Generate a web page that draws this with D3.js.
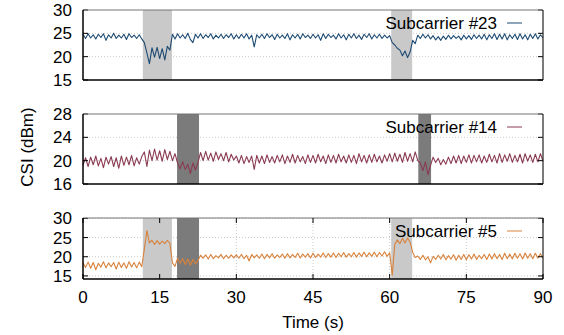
<!DOCTYPE html>
<html>
<head>
<meta charset="utf-8">
<script src="https://cdn.jsdelivr.net/npm/d3@7"></script>
<style>
  body { margin: 0; background: #fff; }
  svg { font-family: "Liberation Sans", Arial, sans-serif; }
</style>
</head>
<body>
<div id="chart"></div>
<script>
// time axis: one sample every half second, 0..90 s
const step = 0.5;
const xTicks = [0, 15, 30, 45, 60, 75, 90];

// Subcarrier #23 (dBm)
const sc23 = [
  24.8, 23.9, 24.9, 24.0, 24.7, 23.8, 24.8, 24.1, 24.9, 23.5, 24.7, 24.0, 25.0, 23.9, 24.6, 24.0, 24.8, 23.7, 24.9, 24.1, 24.6, 23.9, 24.7, 23.8,
  23.0, 20.8, 18.5, 21.9, 19.9, 22.0, 19.6, 21.7, 19.3, 22.2, 21.4,
  24.8, 23.8, 24.9, 24.0, 24.7, 23.9, 25.0, 23.7, 23.0, 24.8, 24.0, 24.9, 23.9, 24.7, 24.1, 24.9, 23.8, 24.6, 24.0, 24.8, 23.9, 24.7, 24.1, 24.9, 23.8,
  24.7, 23.9, 24.8, 24.0, 24.9, 23.8, 24.6, 22.1, 24.7, 24.0, 24.8, 23.9, 24.9, 24.1, 24.7, 23.7, 24.8, 24.0, 24.6, 23.9,
  24.9, 23.6, 24.7, 24.0, 24.8, 23.8, 24.9, 24.1, 24.6, 23.9, 24.8, 24.0, 24.7, 23.5, 24.9, 23.9, 24.8, 24.1, 24.6, 23.8,
  24.9, 24.0, 24.7, 23.6, 24.8, 24.0, 24.9, 23.9, 24.6, 23.7, 24.8, 24.1, 24.9, 23.8, 24.7, 24.0, 24.8, 23.9, 24.6, 24.0,
  24.5, 23.0, 22.5, 21.8, 21.4, 20.2, 21.2, 19.8, 21.0, 23.5, 22.8,
  24.6, 23.9, 24.8, 24.0, 24.7, 23.8, 24.5, 23.6, 24.3, 23.5, 24.4, 23.7, 24.6, 23.8, 24.5, 23.9, 24.4, 23.6, 24.6, 23.8,
  24.5, 23.7, 24.7, 23.9, 24.6, 23.8, 24.8, 23.6, 24.7, 23.9, 24.9, 23.7, 24.8, 23.8, 24.9, 23.6, 24.7, 23.9, 24.8, 23.7,
  24.9, 23.8, 24.7, 23.6, 24.8, 23.9, 24.9, 23.8, 24.7, 24.0
];

// Subcarrier #14 (dBm)
const sc14 = [
  19.2, 20.5, 19.0, 20.6, 19.3, 20.8, 19.1, 20.4, 18.8, 20.6, 19.4, 20.7, 19.0, 20.5, 18.7, 20.8, 19.2, 20.6, 19.3, 20.9, 19.1, 20.5, 19.4, 20.7,
  21.5, 19.0, 21.8, 20.0, 22.0, 20.1, 21.7, 19.9, 21.9, 20.2, 21.6, 20.0, 21.2,
  19.6, 18.6, 19.8, 18.5, 19.4, 17.8, 19.6, 18.4, 19.7,
  21.4, 20.0, 21.6, 20.1, 21.3, 19.9, 21.5, 20.2, 21.2, 20.0, 21.4, 19.8, 21.1, 20.1,
  20.8, 19.6, 20.9, 19.5, 20.7, 19.7, 20.8, 18.5, 20.9, 19.6, 20.8, 19.5, 21.0, 19.7, 20.7, 19.6, 20.9, 19.8, 21.0, 19.5,
  20.8, 19.7, 21.1, 19.6, 20.9, 19.8, 20.7, 19.5, 21.0, 19.7, 20.9, 19.6, 21.1, 19.8, 20.8, 19.5, 21.0, 19.7, 20.9, 19.6,
  21.1, 19.8, 20.8, 19.6, 21.0, 19.7, 20.9, 19.5, 21.2, 19.8, 20.9, 19.6, 21.0, 19.7, 21.1, 19.8, 20.8, 19.6, 21.0, 19.9,
  21.2, 19.8, 21.3, 19.9, 21.1, 19.7, 21.4, 19.9, 21.2, 19.8, 21.5, 20.0,
  19.6, 18.3, 19.8, 17.6, 19.2,
  20.6, 19.7, 20.4, 19.3, 20.2, 19.4, 20.6, 19.5, 20.8, 19.6, 20.9, 19.5, 20.8, 19.7, 21.0, 19.6, 20.9, 19.8, 21.0, 19.6,
  20.8, 19.7, 21.1, 19.8, 20.9, 19.6, 21.2, 19.7, 21.0, 19.9, 21.2, 19.7, 20.9, 19.8, 21.1, 19.6, 21.2, 19.9, 21.0, 19.7,
  21.1, 19.8, 21.2, 19.9
];

// Subcarrier #5 (dBm)
const sc5 = [
  18.4, 17.2, 18.6, 17.0, 18.5, 16.6, 18.3, 17.3, 18.7, 17.1, 18.4, 17.4, 18.5, 16.8, 18.6, 17.2, 18.4, 17.0, 18.7, 17.3, 18.5, 17.1, 18.6, 17.4,
  22.0, 26.8, 23.6, 24.3, 23.2, 24.2, 23.3, 24.1, 23.4, 24.3, 23.5,
  18.4, 17.5,
  19.6, 18.3, 19.5, 18.0, 19.4, 17.8, 19.3, 18.1, 19.0,
  20.4, 19.6, 20.5, 19.4, 20.6, 19.5, 20.3, 19.7, 20.6, 19.5, 20.4, 19.6, 20.5, 19.7,
  20.5, 19.6, 20.6, 19.5, 20.4, 18.9, 20.6, 19.7, 20.5, 19.6, 20.7, 19.5, 20.6, 19.7, 20.8, 19.6, 20.5, 19.8, 20.7, 19.6,
  20.8, 19.7, 20.6, 19.8, 20.9, 19.7, 20.7, 19.9, 20.8, 19.7, 20.9, 19.8, 20.7, 19.9, 21.0, 19.8, 20.8, 19.9, 21.0, 19.8,
  20.9, 20.0, 21.1, 19.9, 20.8, 20.0, 21.1, 19.9, 21.0, 20.1, 21.2, 20.0, 21.0, 20.1, 21.2, 20.0, 21.1, 20.2, 21.3, 20.1, 21.0,
  15.2, 23.2, 24.4, 23.4, 24.8, 23.6, 24.9, 23.8,
  21.2, 19.8, 20.2, 19.3, 20.4, 19.2, 20.0, 18.4, 20.1, 19.3, 20.4, 19.4, 20.6, 19.2, 20.3, 19.4, 20.5, 19.1, 20.4, 19.3,
  20.6, 19.2, 20.5, 19.4, 20.7, 19.3, 20.4, 19.5, 20.6, 19.3, 20.7, 19.4, 20.8, 19.5, 20.6, 19.3, 20.9, 19.5, 20.7, 19.4,
  20.9, 19.6, 20.8, 19.4, 21.0, 19.6, 20.8, 19.5, 20.9, 19.7, 20.8, 19.6
];

// shaded intervals [start, end, kind] in seconds
const shade23 = [[11.7, 17.4, "light"], [60.3, 64.4, "light"]];
const shade14 = [[18.4, 22.7, "dark"], [65.6, 68.1, "dark"]];
const shade5 = [[11.7, 17.4, "light"], [18.4, 22.7, "dark"], [60.3, 64.4, "light"]];

const panels = [
  { name: "Subcarrier #23", values: sc23, color: "#1d4a72", domain: [15, 30], ticks: [15, 20, 25, 30], shades: shade23, top: 10, bottom: 80, xgrid: false },
  { name: "Subcarrier #14", values: sc14, color: "#8a3b52", domain: [16, 28], ticks: [16, 20, 24, 28], shades: shade14, top: 114, bottom: 184, xgrid: false },
  { name: "Subcarrier #5", values: sc5, color: "#d9823b", domain: [14.2, 30.1], ticks: [15, 20, 25, 30], shades: shade5, top: 218, bottom: 279, xgrid: true }
];

const W = 564, H = 335;
const left = 83, right = 543;
const fs = 17;
const shadeColor = { light: "#c9c9c9", dark: "#7b7b7b" };

const svg = d3.select("#chart").append("svg")
  .attr("width", W).attr("height", H);

const x = d3.scaleLinear().domain([0, 90]).range([left, right]);

panels.forEach(p => {
  const y = d3.scaleLinear().domain(p.domain).range([p.bottom, p.top]);
  const g = svg.append("g");

  // grid
  p.ticks.forEach(t => {
    if (t <= p.domain[0] || t >= p.domain[1]) return;
    g.append("line")
      .attr("x1", left).attr("x2", right)
      .attr("y1", y(t)).attr("y2", y(t))
      .attr("stroke", "#bbb").attr("stroke-width", 0.8)
      .attr("stroke-dasharray", "1,2");
  });
  if (p.xgrid) {
    xTicks.slice(1, -1).forEach(t => {
      g.append("line")
        .attr("x1", x(t)).attr("x2", x(t))
        .attr("y1", p.top).attr("y2", p.bottom)
        .attr("stroke", "#bbb").attr("stroke-width", 0.8)
        .attr("stroke-dasharray", "1,2");
    });
  }

  // shaded intervals
  g.selectAll("rect.shade").data(p.shades).enter().append("rect")
    .attr("class", "shade")
    .attr("x", d => x(d[0]))
    .attr("width", d => x(d[1]) - x(d[0]))
    .attr("y", p.top).attr("height", p.bottom - p.top)
    .attr("fill", d => shadeColor[d[2]]);

  // series
  const line = d3.line()
    .x((d, i) => x(i * step))
    .y(d => y(d));
  g.append("path")
    .datum(p.values)
    .attr("d", line)
    .attr("fill", "none")
    .attr("stroke", p.color)
    .attr("stroke-width", 1.1)
    .attr("stroke-linejoin", "round");

  // y ticks both sides, inward
  p.ticks.forEach(t => {
    g.append("line").attr("x1", left).attr("x2", left + 5)
      .attr("y1", y(t)).attr("y2", y(t)).attr("stroke", "#000");
    g.append("line").attr("x1", right).attr("x2", right - 5)
      .attr("y1", y(t)).attr("y2", y(t)).attr("stroke", "#000");
    g.append("text")
      .attr("x", left - 11).attr("y", y(t))
      .attr("dy", "0.35em")
      .attr("text-anchor", "end")
      .attr("font-size", fs)
      .text(t);
  });

  // frame
  g.append("line").attr("x1", left).attr("x2", right).attr("y1", p.top).attr("y2", p.top)
    .attr("stroke", "#777").attr("stroke-width", 1.2);
  g.append("line").attr("x1", right).attr("x2", right).attr("y1", p.top).attr("y2", p.bottom)
    .attr("stroke", "#222").attr("stroke-width", 1.2);
  g.append("line").attr("x1", left).attr("x2", left).attr("y1", p.top).attr("y2", p.bottom)
    .attr("stroke", "#000").attr("stroke-width", 1.5);
  g.append("line").attr("x1", left).attr("x2", right).attr("y1", p.bottom).attr("y2", p.bottom)
    .attr("stroke", "#000").attr("stroke-width", 1.5);

  // legend
  const ly = p.top + 13;
  g.append("text")
    .attr("x", 497).attr("y", ly).attr("dy", "0.35em")
    .attr("text-anchor", "end").attr("font-size", fs)
    .text(p.name);
  g.append("line")
    .attr("x1", 507).attr("x2", 522).attr("y1", ly).attr("y2", ly)
    .attr("stroke", p.color).attr("stroke-width", 1);
});

// x axis ticks on bottom panel
const last = panels[2];
xTicks.forEach(t => {
  svg.append("line").attr("x1", x(t)).attr("x2", x(t))
    .attr("y1", last.bottom).attr("y2", last.bottom - 5).attr("stroke", "#000");
  svg.append("line").attr("x1", x(t)).attr("x2", x(t))
    .attr("y1", last.top).attr("y2", last.top + 5).attr("stroke", "#000");
  svg.append("text")
    .attr("x", x(t)).attr("y", 297).attr("dy", "0.35em")
    .attr("text-anchor", "middle").attr("font-size", fs)
    .text(t);
});

svg.append("text")
  .attr("x", 313).attr("y", 322).attr("dy", "0.35em")
  .attr("text-anchor", "middle").attr("font-size", fs)
  .text("Time (s)");

svg.append("text")
  .attr("transform", "translate(27,147) rotate(-90)")
  .attr("dy", "0.35em")
  .attr("text-anchor", "middle").attr("font-size", fs)
  .text("CSI (dBm)");
</script>
</body>
</html>
